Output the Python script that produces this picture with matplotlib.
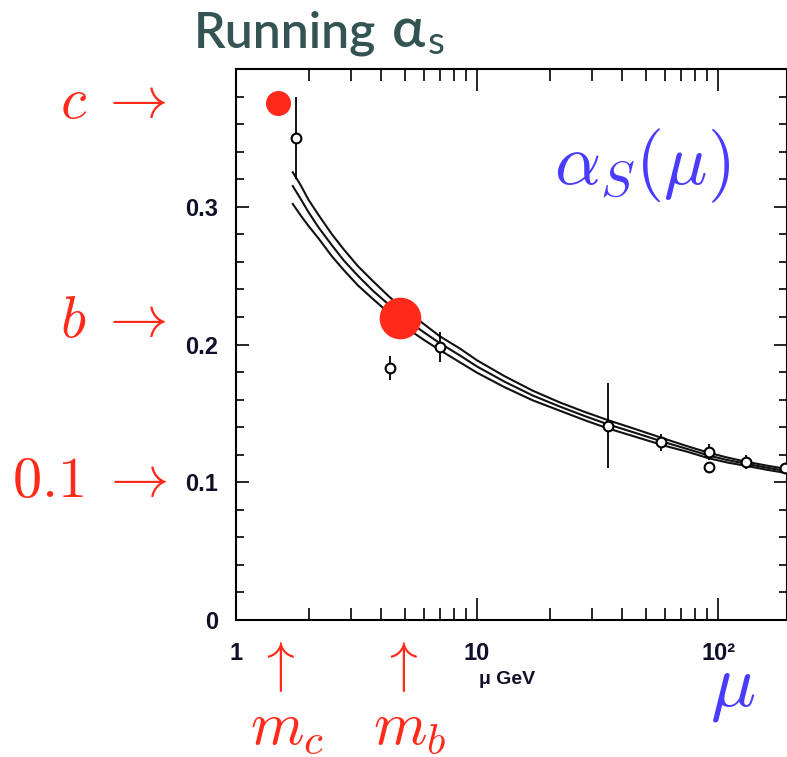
import matplotlib
matplotlib.use('Agg')
import matplotlib.pyplot as plt
from matplotlib.ticker import FixedLocator, NullFormatter, MultipleLocator

plt.rcParams['mathtext.fontset'] = 'cm'
plt.rcParams['font.family'] = ['Liberation Sans', 'DejaVu Sans']
plt.rcParams['font.weight'] = 'bold'

# ---- data ----
curve_mu = [1.72, 1.85, 2.0, 2.2, 2.5, 2.8, 3.2, 3.7, 4.3, 5.0, 6.0, 7.0, 8.5,
            10, 13, 17, 22, 28, 35, 45, 60, 75, 91, 110, 130, 160, 195]
alpha_mid = [0.315, 0.306, 0.296, 0.285, 0.272, 0.261, 0.250, 0.239, 0.229, 0.219,
             0.209, 0.201, 0.192, 0.184, 0.173, 0.163, 0.155, 0.148, 0.142, 0.136,
             0.129, 0.124, 0.1195, 0.116, 0.1135, 0.1105, 0.108]
alpha_top = [0.325, 0.316, 0.305, 0.294, 0.280, 0.269, 0.257, 0.246, 0.235, 0.225,
             0.215, 0.206, 0.197, 0.1885, 0.177, 0.1665, 0.158, 0.151, 0.145, 0.1388,
             0.1315, 0.126, 0.1215, 0.1178, 0.115, 0.112, 0.1095]
alpha_bot = [0.302, 0.294, 0.286, 0.277, 0.264, 0.254, 0.243, 0.233, 0.223, 0.213,
             0.2035, 0.196, 0.187, 0.1795, 0.169, 0.1595, 0.152, 0.145, 0.139, 0.1332,
             0.1265, 0.122, 0.1175, 0.1142, 0.112, 0.109, 0.1065]

data_mu = [1.777, 4.35, 7.0, 34.9, 58.0, 91.2, 91.2, 130.0, 189.0]
data_alpha = [0.350, 0.183, 0.198, 0.141, 0.129, 0.122, 0.111, 0.1145, 0.110]
data_err = [0.030, 0.009, 0.011, 0.031, 0.006, 0.006, 0.004, 0.005, 0.004]

quark_mu = [1.5, 4.8]
quark_alpha = [0.375, 0.219]
quark_size = [18, 30]

y_ticks = [0, 0.1, 0.2, 0.3]
y_ticklabels = ['0', '0.1', '0.2', '0.3']
x_ticks = [1, 10, 100]
x_ticklabels = ['1', '10', '10\u00b2']

RED = '#ff2a1a'
BLUE = '#4a3cff'
TICKCOL = '#10102a'
W, H = 787, 757

fig = plt.figure(figsize=(W / 100, H / 100), dpi=100)
ax = fig.add_axes([236 / W, 1 - 620 / H, 551 / W, 551 / H])
ax.set_xscale('log')
ax.set_xlim(1, 193)
ax.set_ylim(0, 0.4)

for a in (alpha_top, alpha_mid, alpha_bot):
    ax.plot(curve_mu, a, color='#111111', lw=1.5, zorder=2)

ax.errorbar(data_mu, data_alpha, yerr=data_err, fmt='o', ms=7, mfc='white',
            mec='black', mew=1.5, ecolor='black', elinewidth=1.3, capsize=0, zorder=3)

for m, a, s in zip(quark_mu, quark_alpha, quark_size):
    ax.plot([m], [a], 'o', ms=s, color=RED, mec='none', zorder=4, clip_on=False)

ax.xaxis.set_major_locator(FixedLocator(x_ticks))
ax.set_xticklabels(x_ticklabels)
ax.xaxis.set_minor_locator(FixedLocator([2, 3, 4, 5, 6, 7, 8, 9, 20, 30, 40, 50, 60, 70, 80, 90]))
ax.xaxis.set_minor_formatter(NullFormatter())
ax.yaxis.set_major_locator(FixedLocator(y_ticks))
ax.set_yticklabels(y_ticklabels)
ax.yaxis.set_minor_locator(MultipleLocator(0.02))

ax.tick_params(axis='x', which='major', direction='in', length=16, width=1.2, pad=15.5,
               top=True, bottom=True, labelsize=17, labelcolor=TICKCOL)
ax.tick_params(axis='x', which='minor', direction='in', length=8.5, width=1.2,
               top=True, bottom=True)
ax.tick_params(axis='y', which='major', direction='in', length=9.5, width=1.2, pad=13,
               left=True, right=True, labelsize=17, labelcolor=TICKCOL)
ax.tick_params(axis='y', which='minor', direction='in', length=6, width=1.2,
               left=True, right=True)
for sp in ax.spines.values():
    sp.set_linewidth(1.5)

def P(x, y):
    return x / W, 1 - y / H

# axis title
fig.text(*P(507, 679), '\u03bc GeV', ha='center', va='center',
         weight='bold', size=14, color=TICKCOL)

# red annotations left
fig.text(*P(167, 103), r'$c\;\rightarrow$', ha='right', va='center', color=RED, fontsize=42)
fig.text(*P(167, 322), r'$b\;\rightarrow$', ha='right', va='center', color=RED, fontsize=42)
fig.text(*P(168, 482), r'$0.1\;\rightarrow$', ha='right', va='center', color=RED, fontsize=42)

# red annotations bottom
fig.text(*P(276, 667), r'$\uparrow$', ha='center', va='center', color=RED, fontsize=40)
fig.text(*P(399, 667), r'$\uparrow$', ha='center', va='center', color=RED, fontsize=40)
fig.text(*P(287, 728), r'$m_c$', ha='center', va='center', color=RED, fontsize=44)
fig.text(*P(410, 728), r'$m_b$', ha='center', va='center', color=RED, fontsize=44)

# blue annotations
fig.text(*P(642, 166), r'$\alpha_S(\mu)$', ha='center', va='center', color=BLUE, fontsize=52)
fig.text(*P(733, 690), r'$\mu$', ha='center', va='center', color=BLUE, fontsize=54)

# title
TCOL = '#345454'
t1 = fig.text(*P(194, 47), 'Running', ha='left', va='baseline',
              family=['Lato', 'DejaVu Sans'], weight='semibold', size=36, color=TCOL)
fig.canvas.draw()
bb = t1.get_window_extent()
t2 = fig.text(bb.x1 / W + 16 / W, 1 - 47 / H, '\u03b1', ha='left', va='baseline',
              family=['Lato', 'DejaVu Sans'], weight='semibold', size=40, color=TCOL)
fig.canvas.draw()
bb2 = t2.get_window_extent()
fig.text(bb2.x1 / W + 2 / W, 1 - 54 / H, 's', ha='left', va='baseline',
         family=['Lato', 'DejaVu Sans'], weight='normal', size=28, color=TCOL)

fig.savefig('out.png', dpi=100)
